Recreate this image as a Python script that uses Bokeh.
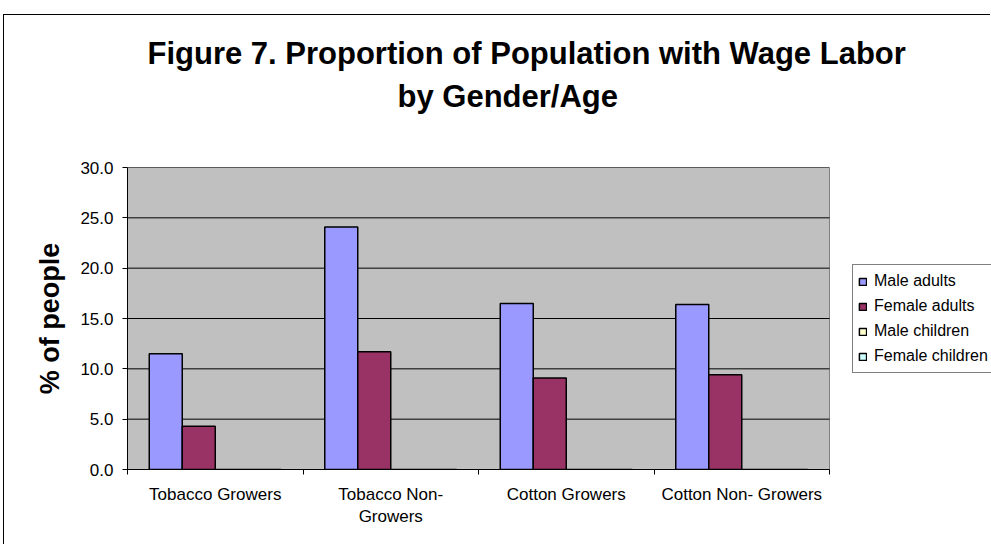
import numpy as np
from bokeh.plotting import figure
from bokeh.models import (ColumnDataSource, Range1d, FixedTicker, NumeralTickFormatter,
                          Legend, LegendItem, Title)
from bokeh.embed import file_html
from bokeh.resources import INLINE

# ---- data ----
categories = ["Tobacco Growers", "Tobacco Non-\nGrowers", "Cotton Growers", "Cotton Non- Growers"]
series_names = ["Male adults", "Female adults", "Male children", "Female children"]
male_adults = [11.5, 24.1, 16.5, 16.4]
female_adults = [4.3, 11.7, 9.1, 9.4]
male_children = [0.0, 0.0, 0.0, 0.0]
female_children = [0.0, 0.0, 0.0, 0.0]
y_ticks = [0, 5, 10, 15, 20, 25, 30]
colors = ["#9999FF", "#993366", "#FFFFCC", "#CCFFFF"]

FONT = "Liberation Sans"
series = [male_adults, female_adults, male_children, female_children]
n_cat = len(categories)
y_max = y_ticks[-1]

# the plot area spans 0..n_cat; the rest of the frame (to the right) holds the legend
PLOT_W = 702.0
FRAME_W = 864.0
x_end = n_cat * FRAME_W / PLOT_W

p = figure(width=987, height=530,
           x_range=Range1d(0, x_end), y_range=Range1d(0, y_max),
           output_backend="svg", toolbar_location=None,
           min_border_left=123, min_border_top=152,
           min_border_right=0, min_border_bottom=76)
# chart-area border (left and top edges visible, as in the reference)
p.styles = {"margin-left": "3px", "margin-top": "14px",
            "border-left": "1px solid black", "border-top": "1px solid black"}

p.background_fill_color = "white"
p.border_fill_color = "white"
p.outline_line_color = None
p.xgrid.visible = False
p.ygrid.visible = False

# plot area (grey) and its horizontal gridlines
p.quad(left=[0], right=[n_cat], bottom=[0], top=[y_max],
       fill_color="#C0C0C0", line_color="#808080", line_width=1)
p.segment(x0=[0] * len(y_ticks), x1=[n_cat] * len(y_ticks), y0=y_ticks, y1=y_ticks,
          line_color="black", line_width=1)

group_width = 0.752
bar_w = group_width / len(series)
centers = np.arange(n_cat) + 0.5

items = []
for i, (name, vals, col) in enumerate(zip(series_names, series, colors)):
    off = -group_width / 2 + bar_w * (i + 0.5)
    src = ColumnDataSource(dict(x=centers + off, top=vals))
    r = p.vbar(x="x", top="top", bottom=0, width=bar_w, source=src,
               fill_color=col, line_color="black", line_width=1.5)
    items.append(LegendItem(label=name, renderers=[r]))

# x axis
xa = p.xaxis[0]
xa.bounds = (0, n_cat)
xa.ticker = FixedTicker(ticks=list(centers), minor_ticks=list(range(n_cat + 1)))
xa.major_label_overrides = {float(c): lab for c, lab in zip(centers, categories)}
xa.major_tick_line_color = None
xa.major_tick_out = 0
xa.major_tick_in = 0
xa.minor_tick_line_color = "black"
xa.minor_tick_out = 5
xa.minor_tick_in = 0
xa.axis_line_color = "black"
xa.major_label_text_font = FONT
xa.major_label_text_font_size = "17px"
xa.major_label_text_color = "black"
xa.major_label_standoff = 10

# y axis
ya = p.yaxis[0]
ya.ticker = FixedTicker(ticks=y_ticks)
ya.formatter = NumeralTickFormatter(format="0.0")
ya.minor_tick_line_color = None
ya.major_tick_out = 5
ya.major_tick_in = 0
ya.major_tick_line_color = "black"
ya.axis_line_color = "black"
ya.major_label_text_font = FONT
ya.major_label_text_font_size = "17px"
ya.major_label_text_color = "black"
ya.major_label_standoff = 9
ya.axis_label = "% of people"
ya.axis_label_text_font = FONT
ya.axis_label_text_font_size = "27px"
ya.axis_label_text_font_style = "bold"
ya.axis_label_text_color = "black"
ya.axis_label_standoff = 12

# titles (the later-added title sits nearer the plot)
p.title.text = "Figure 7. Proportion of Population with Wage Labor"
p.title.align = "left"
p.title.offset = 20
p.title.standoff = -96
p.title.text_font = FONT
p.title.text_font_size = "31px"
p.title.text_font_style = "bold"
p.title.text_color = "black"
t2 = Title(text="by Gender/Age", align="left", offset=270,
           text_font=FONT, text_font_size="31px", text_font_style="bold",
           text_color="black", standoff=108)
p.add_layout(t2, "above")

# legend, right of the plot area (its box runs off the edge as in the reference)
legend = Legend(items=items, location=(725, 96), orientation="vertical",
                label_text_font=FONT, label_text_font_size="16px", label_text_color="black",
                glyph_width=9, glyph_height=9, label_height=22, label_standoff=7,
                spacing=3, padding=5, border_line_color="black", border_line_width=1,
                background_fill_color="white", background_fill_alpha=1.0, margin=0)
p.add_layout(legend, "center")

open("out.html", "w").write(file_html(p, INLINE))
